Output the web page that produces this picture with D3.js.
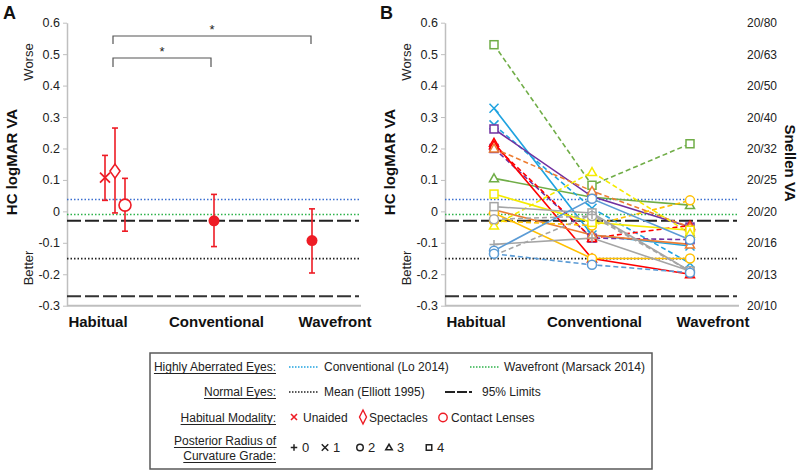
<!DOCTYPE html>
<html><head><meta charset="utf-8">
<script src="https://cdn.jsdelivr.net/npm/d3@7"></script>
<style>body{margin:0;background:#fff} svg{font-family:Arial,"Liberation Sans",sans-serif}</style>
</head><body><svg id="c" width="800" height="473"></svg>
<script>
// ---------- DATA ----------
const categories = ["Habitual", "Conventional", "Wavefront"];
const yTicks = [0.6, 0.5, 0.4, 0.3, 0.2, 0.1, 0, -0.1, -0.2, -0.3];
const yTickLabels = ["0.6", "0.5", "0.4", "0.3", "0.2", "0.1", "0", "-0.1", "-0.2", "-0.3"];
const snellenLabels = ["20/80", "20/63", "20/50", "20/40", "20/32", "20/25", "20/20", "20/16", "20/13", "20/10"];

// Panel A: habitual by modality
const modalities = ["Unaided", "Spectacles", "Contact Lenses"];
const habitualMean = [0.107, 0.128, 0.020];
const habitualLow = [0.035, -0.005, -0.063];
const habitualHigh = [0.178, 0.265, 0.105];
// Panel A: corrected
const correctedCats = ["Conventional", "Wavefront"];
const correctedMean = [-0.030, -0.093];
const correctedLow = [-0.112, -0.196];
const correctedHigh = [0.054, 0.008];

// Reference values
const refLo = 0.038, refMarsack = -0.010, refElliottMean = -0.150;
const refLimits = [-0.030, -0.270];

// Panel B: individual eyes
const eyeColor = ["green","green","lightblue","lightblue","purple","purple","red","red","orange","orange","gold","gold","yellow","yellow","gray","gray","gray","gray","blue","blue"];
const eyeDashed = [true,false,false,true,false,true,false,true,true,false,false,true,false,true,false,true,false,true,false,true];
const eyeGrade = [4,3,1,1,4,4,3,3,3,3,2,2,4,3,4,2,0,0,2,2];
const eyeHabitual =    [0.530, 0.105, 0.328, 0.275, 0.262, 0.200, 0.218, 0.210, 0.200, 0.005, -0.005, -0.030, 0.055, -0.045, 0.015, -0.025, -0.105, -0.140, -0.125, -0.135];
const eyeConventional = [0.083, 0.045, -0.075, 0.010, 0.047, -0.085, -0.150, -0.085, 0.065, -0.075, -0.150, -0.045, -0.035, 0.125, -0.005, -0.015, -0.085, -0.010, 0.040, -0.170];
const eyeWavefront =   [0.215, 0.020, -0.110, -0.165, -0.050, -0.090, -0.200, -0.045, -0.050, -0.105, -0.150, 0.035, -0.060, -0.070, -0.190, -0.190, -0.190, -0.190, -0.090, -0.195];

// ---------- STYLE ----------
const palette = {green:"#70AD47", lightblue:"#1FA3E0", purple:"#7030A0", red:"#FF0000", orange:"#ED7D31", gold:"#FFC000", yellow:"#F5EB00", gray:"#A5A5A5", blue:"#5B9BD5"};
const red = "#EE1C25";
const svg = d3.select("#c");
const y = d3.scaleLinear().domain([-0.3, 0.6]).range([305.7, 22.7]);

function drawPanel(x0, x1) {
  const g = svg.append("g");
  const x = d3.scaleBand().domain(categories).range([x0, x1]).padding(0);
  const xl = d3.scalePoint().domain(categories).range([x0 + 31, x0 + 268]);
  // y axis
  const ax = g.append("g").attr("transform", `translate(${x0},0)`)
    .call(d3.axisLeft(y).tickValues(yTicks).tickSize(4).tickSizeOuter(0).tickFormat((d,i)=>yTickLabels[i]));
  ax.select(".domain").attr("stroke", "#BFBFBF").attr("stroke-width", 1.5);
  ax.selectAll(".tick line").attr("stroke", "#BFBFBF");
  ax.selectAll(".tick text").attr("font-size", 12.5).attr("fill", "#222").attr("font-family", "Arial, 'Liberation Sans', sans-serif").attr("x", -7);
  // x axis line
  g.append("line").attr("x1", x0).attr("x2", x1).attr("y1", y(-0.3)).attr("y2", y(-0.3)).attr("stroke", "#BFBFBF").attr("stroke-width", 2);
  // category labels
  g.selectAll("text.cat").data(categories).enter().append("text").attr("class","cat")
    .attr("x", d => xl(d)).attr("y", 327).attr("text-anchor", "middle")
    .attr("font-size", 15).attr("font-weight", "bold").attr("fill", "#111").text(d => d);
  // reference lines
  const refs = [
    {v: refLo, c: "#3B6FD0", d: "1.5,2", w: 1.5},
    {v: refMarsack, c: "#2DB24A", d: "1.5,2", w: 1.5},
    {v: refElliottMean, c: "#222", d: "1.5,2", w: 1.7},
    {v: refLimits[0], c: "#222", d: "14,4", w: 2},
    {v: refLimits[1], c: "#333", d: "14,4", w: 2}
  ];
  g.selectAll("line.ref").data(refs).enter().append("line").attr("class","ref")
    .attr("x1", x0).attr("x2", x1 - 2).attr("y1", d => y(d.v)).attr("y2", d => y(d.v))
    .attr("stroke", d => d.c).attr("stroke-dasharray", d => d.d).attr("stroke-width", d => d.w);
  // y titles
  g.append("text").attr("transform", `translate(${x0-50},162) rotate(-90)`).attr("text-anchor","middle")
    .attr("font-size", 15).attr("font-weight","bold").attr("fill","#111").text("HC logMAR VA");
  g.append("text").attr("transform", `translate(${x0-34},62) rotate(-90)`).attr("text-anchor","middle")
    .attr("font-size", 13).attr("fill","#222").text("Worse");
  g.append("text").attr("transform", `translate(${x0-34},268) rotate(-90)`).attr("text-anchor","middle")
    .attr("font-size", 13).attr("fill","#222").text("Better");
  return {g, x};
}

function marker(sel, grade, color, size) {
  const s = size;
  if (grade === 0) {
    sel.append("path").attr("d", `M${-s/2},0H${s/2}M0,${-s/2}V${s/2}`).attr("stroke", color).attr("stroke-width", 1.5).attr("fill","none");
  } else if (grade === 1) {
    sel.append("path").attr("d", `M${-s/2},${-s/2}L${s/2},${s/2}M${-s/2},${s/2}L${s/2},${-s/2}`).attr("stroke", color).attr("stroke-width", 1.5).attr("fill","none");
  } else if (grade === 2) {
    sel.append("circle").attr("r", s/2).attr("stroke", color).attr("stroke-width", 1.5).attr("fill","white");
  } else if (grade === 3) {
    sel.append("path").attr("d", `M0,${-s/2}L${s/2},${s/2-1}L${-s/2},${s/2-1}Z`).attr("stroke", color).attr("stroke-width", 1.5).attr("fill","white");
  } else {
    sel.append("rect").attr("x", -s/2+0.5).attr("y", -s/2+0.5).attr("width", s-1).attr("height", s-1).attr("stroke", color).attr("stroke-width", 1.5).attr("fill","white");
  }
}

// ---------- PANEL A ----------
const A = drawPanel(67, 361);
const xA = A.x;
const hc = xA("Habitual") + xA.bandwidth()/2 - 1;
const off = d3.scalePoint().domain(modalities).range([-10, 10]);
const errs = [];
modalities.forEach((m,i) => errs.push({x: hc + off(m), m: habitualMean[i], lo: habitualLow[i], hi: habitualHigh[i], type: m}));
correctedCats.forEach((c,i) => errs.push({x: xA(c) + xA.bandwidth()/2, m: correctedMean[i], lo: correctedLow[i], hi: correctedHigh[i], type: "dot"}));
const eg = A.g.append("g");
errs.forEach(d => {
  eg.append("line").attr("x1", d.x).attr("x2", d.x).attr("y1", y(d.lo)).attr("y2", y(d.hi)).attr("stroke", red).attr("stroke-width", 1.6);
  [d.lo, d.hi].forEach(v => eg.append("line").attr("x1", d.x-3).attr("x2", d.x+3).attr("y1", y(v)).attr("y2", y(v)).attr("stroke", red).attr("stroke-width", 1.6));
  const gg = eg.append("g").attr("transform", `translate(${d.x},${y(d.m)})`);
  if (d.type === "Unaided") gg.append("path").attr("d","M-5,-5L5,5M-5,5L5,-5").attr("stroke", red).attr("stroke-width", 1.8);
  else if (d.type === "Spectacles") gg.append("path").attr("d","M0,-7L5,0L0,7L-5,0Z").attr("stroke", red).attr("stroke-width", 1.6).attr("fill","white");
  else if (d.type === "Contact Lenses") gg.append("circle").attr("r", 6).attr("stroke", red).attr("stroke-width", 1.6).attr("fill","white");
  else gg.append("circle").attr("r", 5.5).attr("fill", red);
});
// significance brackets
const bx0 = hc - 2;
const brackets = [
  {x2: xA("Wavefront") + xA.bandwidth()/2 - 1, yb: 36, yd: 44, sy: 34},
  {x2: xA("Conventional") + xA.bandwidth()/2 - 3, yb: 58, yd: 67, sy: 56}
];
brackets.forEach(b => {
  A.g.append("path").attr("d", `M${bx0},${b.yd}V${b.yb}H${b.x2}V${b.yd}`).attr("fill","none").attr("stroke","#555").attr("stroke-width",1.2);
  A.g.append("text").attr("x", (bx0+b.x2)/2).attr("y", b.sy).attr("text-anchor","middle").attr("font-size", 13).attr("fill","#222").text("*");
});
svg.append("text").attr("x", 3).attr("y", 19).attr("font-size", 18).attr("font-weight","bold").attr("fill","#111").text("A");

// ---------- PANEL B ----------
const B = drawPanel(445, 739);
const xB = B.x;
const cx = c => xB(c) + xB.bandwidth()/2;
const eyes = eyeColor.map((c,i) => ({color: palette[c], dashed: eyeDashed[i], grade: eyeGrade[i], vals: [eyeHabitual[i], eyeConventional[i], eyeWavefront[i]]}));
const line = d3.line().x((d,i) => cx(categories[i])).y(d => y(d));
const lg = B.g.append("g");
eyes.forEach(e => {
  lg.append("path").attr("d", line(e.vals)).attr("fill","none").attr("stroke", e.color).attr("stroke-width", 1.6)
    .attr("stroke-dasharray", e.dashed ? "5,3" : null);
});
const mg = B.g.append("g");
eyes.forEach(e => {
  e.vals.forEach((v,i) => {
    const gg = mg.append("g").attr("transform", `translate(${cx(categories[i])},${y(v)})`);
    marker(gg, e.grade, e.color, 9);
  });
});
// right Snellen axis
B.g.selectAll("text.snel").data(snellenLabels).enter().append("text").attr("class","snel")
  .attr("x", 747).attr("y", (d,i) => y(yTicks[i]) + 4.5).attr("font-size", 12).attr("fill","#222").text(d => d);
svg.append("text").attr("transform","translate(785,163) rotate(90)").attr("text-anchor","middle")
  .attr("font-size",15).attr("font-weight","bold").attr("fill","#111").text("Snellen VA");
svg.append("text").attr("x", 380).attr("y", 19).attr("font-size", 18).attr("font-weight","bold").attr("fill","#111").text("B");

// ---------- LEGEND ----------
const L = svg.append("g");
L.append("rect").attr("x",150).attr("y",353).attr("width",502).attr("height",116).attr("fill","white").attr("stroke","#595959").attr("stroke-width",1.5);
const fs = 12, tc = "#222";
function uText(txt, x, yy) {
  const t = L.append("text").attr("x", x).attr("y", yy).attr("text-anchor","end").attr("font-size", fs).attr("fill", tc).text(txt);
  const bb = t.node().getBBox();
  L.append("line").attr("x1", bb.x).attr("x2", bb.x + bb.width).attr("y1", yy + 2.5).attr("y2", yy + 2.5).attr("stroke", tc).attr("stroke-width", 1);
}
function lText(txt, x, yy) { L.append("text").attr("x", x).attr("y", yy).attr("font-size", fs).attr("fill", tc).text(txt); }
function lLine(x1, x2, yy, c, dash, w) { L.append("line").attr("x1",x1).attr("x2",x2).attr("y1",yy).attr("y2",yy).attr("stroke",c).attr("stroke-dasharray",dash).attr("stroke-width",w); }
const r1 = 371, r2 = 396, r3 = 422, r4 = 452;
uText("Highly Aberrated Eyes:", 276, r1);
lLine(289, 319, r1-4, "#1FA3E0", "1.5,1.5", 1.3); lText("Conventional (Lo 2014)", 324, r1);
lLine(470, 500, r1-4, "#2DB24A", "1.5,1.5", 1.3); lText("Wavefront (Marsack 2014)", 504, r1);
uText("Normal Eyes:", 276, r2);
lLine(289, 319, r2-4, "#222", "1.5,1.5", 1.3); lText("Mean (Elliott 1995)", 324, r2);
lLine(445, 479, r2-4, "#222", "10,2,10,2,3", 1.8); lText("95% Limits", 482, r2);
uText("Habitual Modality:", 276, r3);
L.append("path").attr("d", `M291,${r3-8}L297,${r3-2}M291,${r3-2}L297,${r3-8}`).attr("stroke", red).attr("stroke-width", 1.6);
lText("Unaided", 303, r3);
L.append("path").attr("d", `M363,${r3-12}L366.5,${r3-5}L363,${r3+2}L359.5,${r3-5}Z`).attr("stroke", red).attr("stroke-width", 1.4).attr("fill","white");
lText("Spectacles", 369, r3);
L.append("circle").attr("cx", 443).attr("cy", r3-4.5).attr("r", 4.2).attr("stroke", red).attr("stroke-width", 1.4).attr("fill","white");
lText("Contact Lenses", 451, r3);
uText("Posterior Radius of", 276, 445);
uText("Curvature Grade:", 276, 460);
const gx = [294, 325, 360, 389, 429];
gx.forEach((xx, i) => {
  const gg = L.append("g").attr("transform", `translate(${xx},${r4-4.5})`);
  marker(gg, i, "#222", 6.5);
  L.append("text").attr("x", xx + 8).attr("y", r4).attr("font-size", 13).attr("fill", tc).text(String(i));
});
</script></body></html>
